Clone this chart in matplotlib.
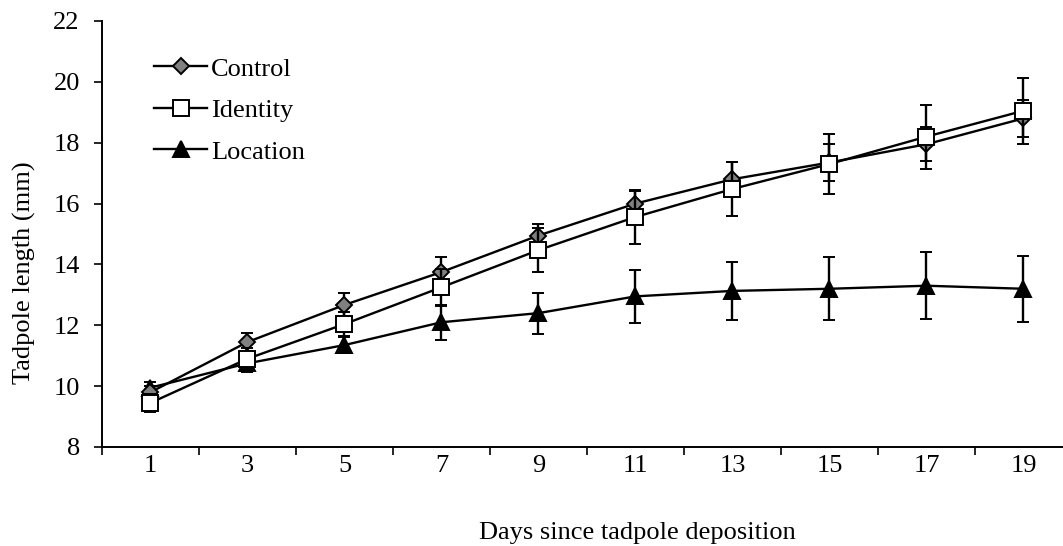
import matplotlib
matplotlib.use("Agg")
import matplotlib.pyplot as plt
from matplotlib.ticker import FixedLocator, NullFormatter
import numpy as np

plt.rcParams['font.family'] = ['Liberation Serif', 'DejaVu Serif']

# Tadpole growth per treatment (mean +/- SE)
days = [1, 3, 5, 7, 9, 11, 13, 15, 17, 19]
control_mean = [9.80, 11.45, 12.67, 13.75, 14.95, 16.00, 16.80, 17.35, 17.95, 18.80]
control_se = [0.20, 0.30, 0.38, 0.50, 0.38, 0.40, 0.55, 0.60, 0.55, 0.60]
identity_mean = [9.45, 10.90, 12.04, 13.25, 14.47, 15.56, 16.48, 17.30, 18.20, 19.05]
identity_se = [0.30, 0.35, 0.40, 0.60, 0.72, 0.88, 0.90, 1.00, 1.05, 1.08]
location_mean = [9.95, 10.75, 11.35, 12.10, 12.40, 12.95, 13.13, 13.20, 13.30, 13.20]
location_se = [0.20, 0.30, 0.25, 0.58, 0.67, 0.87, 0.95, 1.03, 1.10, 1.08]

fs = 19
x = np.arange(len(days))

fig = plt.figure(figsize=(10.63, 5.46), dpi=100)
ax = fig.add_axes([0.09595, 0.18132, 0.91251, 0.78022])

err_kw = dict(ecolor='black', elinewidth=1.7, capsize=4.2, capthick=1.7)
line_kw = dict(color='black', linewidth=1.7, markeredgecolor='black', markeredgewidth=1.4)

loc_line = ax.errorbar(x, location_mean, yerr=location_se, marker='^', markersize=11,
                       markerfacecolor='black', zorder=2, **line_kw, **err_kw)
ctl_line = ax.errorbar(x, control_mean, yerr=control_se, marker='D', markersize=8,
                       markerfacecolor='#808080', zorder=3, **line_kw, **err_kw)
idn_line = ax.errorbar(x, identity_mean, yerr=identity_se, marker='s', markersize=12,
                       markerfacecolor='white', zorder=4, **line_kw, **err_kw)

ax.set_xlim(-0.5, 9.5)
ax.set_ylim(8, 22)
ax.set_yticks(np.arange(8, 23, 2))
ax.set_xticks(x)
ax.set_xticklabels([str(d) for d in days])
ax.xaxis.set_minor_locator(FixedLocator(np.arange(-0.5, 10, 1)))
ax.xaxis.set_minor_formatter(NullFormatter())
ax.tick_params(axis='x', which='major', length=0, pad=6, labelsize=fs)
ax.tick_params(axis='x', which='minor', length=6, width=1.2, direction='out')
ax.tick_params(axis='y', length=6, width=1.2, direction='out', pad=10, labelsize=fs)

for side in ('top', 'right'):
    ax.spines[side].set_visible(False)
for side in ('left', 'bottom'):
    ax.spines[side].set_linewidth(1.4)

ax.set_xlabel("Days since tadpole deposition", fontsize=fs)
ax.xaxis.set_label_coords(0.552, -0.175)
ax.set_ylabel("Tadpole length (mm)", fontsize=fs)
ax.yaxis.set_label_coords(-0.068, 0.41)

ax.legend([ctl_line.lines[0], idn_line.lines[0], loc_line.lines[0]],
          ["Control", "Identity", "Location"],
          loc='upper left', bbox_to_anchor=(0.054, 0.915), frameon=False,
          fontsize=fs, handlelength=2.0, handletextpad=0.15,
          labelspacing=0.68, borderpad=0, borderaxespad=0)

fig.savefig("out.png", dpi=100)
